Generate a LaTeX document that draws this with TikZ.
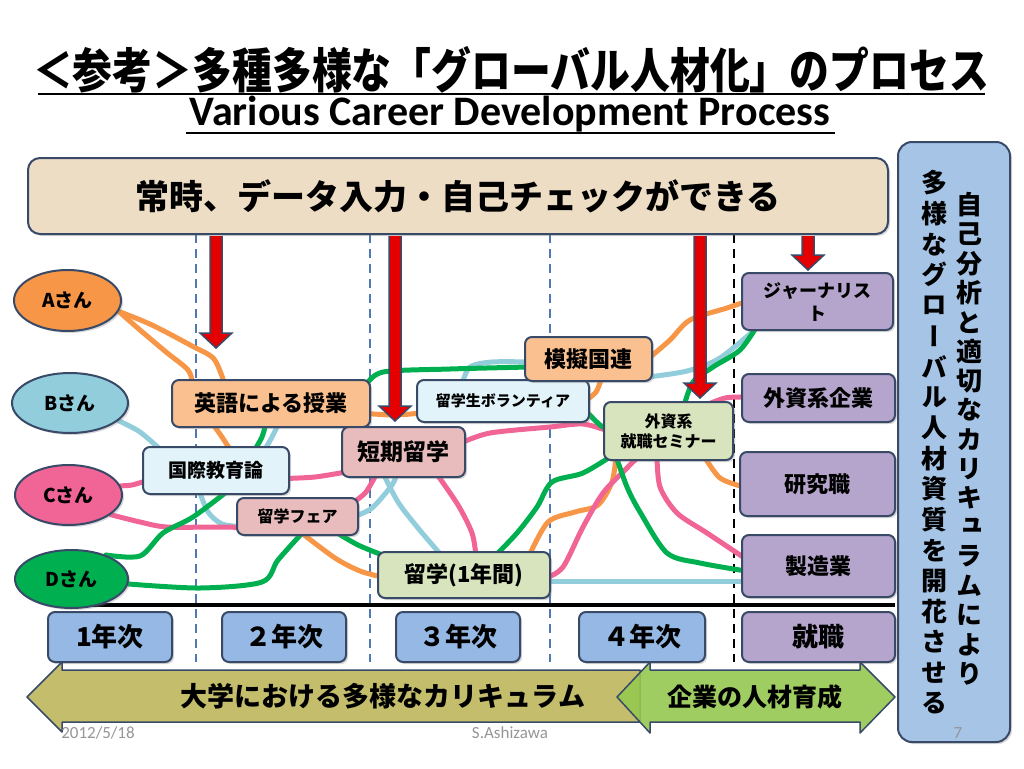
\documentclass[tikz,border=0pt]{standalone}
\usepackage{fontspec}
\usepackage{graphicx}
\setmainfont{Noto Sans CJK JP}
\newfontfamily\vertjp{Noto Sans CJK JP}[RawFeature=+vert]
\newfontfamily\calib{Carlito}
\usetikzlibrary{shapes.geometric,backgrounds,shadows}

\definecolor{edgec}{RGB}{56,74,104}
\definecolor{bannerfill}{RGB}{237,221,197}
\definecolor{sidefill}{RGB}{166,196,230}
\definecolor{orangebox}{RGB}{250,192,143}
\definecolor{cyanbox}{RGB}{226,243,250}
\definecolor{pinkbox}{RGB}{232,188,188}
\definecolor{greenbox}{RGB}{215,228,189}
\definecolor{jobpurple}{RGB}{181,165,204}
\definecolor{yearblue}{RGB}{149,185,228}
\definecolor{arrowred}{RGB}{228,0,0}
\definecolor{olive}{RGB}{196,189,108}
\definecolor{limegreen}{RGB}{150,200,80}
\definecolor{divblue}{RGB}{79,120,180}
\definecolor{lnorange}{RGB}{247,150,70}
\definecolor{lnblue}{RGB}{146,205,220}
\definecolor{lnpink}{RGB}{240,100,150}
\definecolor{lngreen}{RGB}{0,176,80}
\definecolor{footgray}{RGB}{150,150,150}

\newcommand\fsz[1]{\fontsize{#1}{#1}\selectfont}
% red arrow from the banner down to a tip
\newcommand\redarrow[3]{%
  \filldraw[redarr] (#1-6,#2) -- (#1-6,#3-15) -- (#1-16,#3-15) -- (#1,#3)
    -- (#1+16,#3-15) -- (#1+6,#3-15) -- (#1+6,#2);}

\begin{document}
\begin{tikzpicture}[
		x=1pt,y=-1pt,
		box/.style = {draw=edgec, line width=2pt, rounded corners=7pt, align=center,
			inner sep=2pt, font=\bfseries,
			drop shadow={shadow xshift=2pt, shadow yshift=-2pt, opacity=.3}},
		person/.style = {ellipse, draw=edgec, line width=2pt, font=\bfseries\fsz{19},
			drop shadow={shadow xshift=2pt, shadow yshift=-2pt, opacity=.3}},
		yearbox/.style = {box, fill=yearblue, minimum height=50, font=\bfseries\fsz{26}},
		career/.style = {box, fill=jobpurple, minimum width=153, font=\bfseries\fsz{22}},
		vchar/.style = {inner sep=0, font=\vertjp\bfseries\fsz{26}},
		redarr/.style = {fill=arrowred, draw=edgec, line width=1.5pt},
		divider/.style = {divblue, line width=2pt, dash pattern=on 9pt off 6pt},
		route/.style = {line width=5pt, line cap=round, line join=round},
		foot/.style = {font=\calib\fsz{17}, text=footgray}
	]
	\useasboundingbox (0,0) rectangle (1024,768);

	% titles
	\node (title) [inner sep=0, font=\bfseries\fsz{48}] at (511,70)
		{\scalebox{0.83}[1]{＜参考＞多種多様な「グローバル人材化」のプロセス}};
	\node (subtitle) [inner sep=0, font=\calib\bfseries\fsz{42}] at (510,114)
		{Various Career Development Process};
	\draw [line width=2pt] (38,94) -- (985,94);
	\draw [line width=2pt] (186,133) -- (835,133);

	% banner and side box
	\node (always) [box, fill=bannerfill, minimum width=860, minimum height=76,
		rounded corners=12pt, font=\bfseries\fsz{34}] at (458,196)
		{常時、データ入力・自己チェックができる};
	\node (side) [box, fill=sidefill, minimum width=112, minimum height=600,
		rounded corners=14pt] at (954,442) {};
	\foreach \ch [count=\i from 0] in {自,己,分,析,と,適,切,な,カ,リ,キ,ュ,ラ,ム,に,よ,り}
		\node (vR\i) [vchar] at (969,205+29.3*\i) {\ch};
	\foreach \ch [count=\i from 0] in {多,様,な,グ,ロ,ー,バ,ル,人,材,資,質,を,開,花,さ,せ,る}
		\node (vL\i) [vchar] at (934,183+30.6*\i) {\ch};

	% people
	\node (A) [person, fill=lnorange, minimum width=107, minimum height=61] at (67.5,300.5) {Aさん};
	\node (B) [person, fill=lnblue, minimum width=116, minimum height=60] at (70,403) {Bさん};
	\node (C) [person, fill=lnpink, minimum width=107, minimum height=60] at (68.5,495) {Cさん};
	\node (D) [person, fill=lngreen, minimum width=113, minimum height=58] at (71.5,579) {Dさん};

	% courses
	\node (eng) [box, fill=orangebox, minimum width=198, minimum height=47, font=\bfseries\fsz{22}] at (271,403.5) {英語による授業};
	\node (int) [box, fill=cyanbox, minimum width=146, minimum height=47, font=\bfseries\fsz{19}] at (216,470.5) {国際教育論};
	\node (fair) [box, fill=pinkbox, minimum width=121, minimum height=37, font=\bfseries\fsz{16}] at (297.5,516.5) {留学フェア};
	\node (short) [box, fill=pinkbox, minimum width=123, minimum height=50, font=\bfseries\fsz{23}] at (403.5,452) {短期留学};
	\node (vol) [box, fill=cyanbox, minimum width=172, minimum height=42, font=\bfseries\fsz{15}] at (503,401) {留学生ボランティア};
	\node (mogi) [box, fill=orangebox, minimum width=127, minimum height=44, font=\bfseries\fsz{22}] at (588.5,359) {模擬国連};
	\node (sem) [box, fill=greenbox, minimum width=129, minimum height=58, font=\bfseries\fontsize{16}{20}\selectfont] at (668.5,431) {外資系\\就職セミナー};
	\node (ryu) [box, fill=greenbox, minimum width=172, minimum height=46, font=\bfseries\fsz{22}] at (464,575) {留学(1年間)};

	% careers
	\node (jour) [career, minimum width=151, minimum height=57, font=\bfseries\fontsize{18}{23}\selectfont] at (817.5,301.5) {ジャーナリス\\ト};
	\node (biz) [career, minimum height=48] at (818.5,398) {外資系企業};
	\node (res) [career, minimum width=155, minimum height=64] at (817.5,484) {研究職};
	\node (mfg) [career, minimum height=62] at (818.5,566) {製造業};

	% years
	\node (y1) [yearbox, minimum width=124] at (110,637) {1年次};
	\node (y2) [yearbox, minimum width=124] at (284,637) {２年次};
	\node (y3) [yearbox, minimum width=124] at (458,637) {３年次};
	\node (y4) [yearbox, minimum width=126] at (642,637) {４年次};
	\node (job) [career, minimum height=50, font=\bfseries\fsz{26}] at (818.5,637) {就職};

	\begin{scope}[on background layer]
		\fill [white] (0,0) rectangle (1024,768);
		\foreach \xd in {196,370,550}
			\draw [divider] (\xd,234) -- (\xd,662);
		\draw [black, line width=2pt, dash pattern=on 9pt off 6pt] (734,234) -- (734,662);
		\draw [line width=4pt] (55,605) -- (895,605);

		% A
		\draw [route, lnorange] plot [smooth] coordinates {(A.-12) (140,330) (166,352) (188,370) ([xshift=22pt,yshift=-6pt]eng.north west)};
		\draw [route, lnorange] plot [smooth] coordinates {(A.-12) (152,325) (192,346) (214,359) ([xshift=54pt,yshift=-6pt]eng.north west)};
		\draw [route, lnorange] plot [smooth] coordinates {([xshift=41pt,yshift=5pt]eng.south west) (222,437) ([xshift=89pt,yshift=-5pt]int.north west)};
		\draw [route, lnorange] plot [smooth] coordinates {([xshift=63pt,yshift=5pt]fair.south west) (335,558) (360,571) ([xshift=5pt,yshift=-2pt]ryu.west)};
		\draw [route, lnorange] plot [smooth] coordinates {([xshift=-5pt,yshift=-10pt]eng.east) (395,415) ([xshift=5pt,yshift=-12pt]vol.west)};
		\draw [route, lnorange] plot [smooth] coordinates {([xshift=-5pt]vol.east) (596,392) ([xshift=78pt,yshift=5pt]mogi.south west)};
		\draw [route, lnorange] plot [smooth] coordinates {([xshift=-5pt]mogi.east) (670,340) (690,320) (727,308) ([xshift=5pt]jour.west)};
		\draw [route, lnorange] plot [smooth] coordinates {([xshift=152pt,yshift=-5pt]ryu.north west) (548,522) (575,512) (598,505) (612,482) ([xshift=13pt,yshift=5pt]sem.south west)};
		\draw [route, lnorange] plot [smooth] coordinates {([xshift=-30pt,yshift=5pt]sem.south east) (720,478) ([xshift=5pt,yshift=-3pt]res.west)};

		% B
		\draw [route, lnblue] plot [smooth] coordinates {(B.-20) (140,432) ([xshift=20pt,yshift=-5pt]int.north west)};
		\draw [route, lnblue] plot [smooth] coordinates {([xshift=122pt,yshift=-5pt]int.north west) (272,437) ([xshift=108pt,yshift=5pt]eng.south west)};
		\draw [route, lnblue] plot [smooth] coordinates {([xshift=57pt,yshift=5pt]int.south west) (208,512) (222,524) ([xshift=5pt,yshift=-10pt]fair.west)};
		\draw [route, lnblue] plot [smooth] coordinates {([xshift=-5pt]fair.east) (372,508) (392,485) ([xshift=56pt,yshift=5pt]short.south west)};
		\draw [route, lnblue] plot [smooth] coordinates {([xshift=42pt,yshift=5pt]short.south west) (398,502) (418,528) ([xshift=65pt,yshift=-5pt]ryu.north west)};
		\draw [route, lnblue] plot [smooth] coordinates {([xshift=46pt,yshift=-5pt]vol.north west) (470,367) (492,362) ([xshift=5pt,yshift=-3pt]mogi.west)};
		\draw [route, lnblue] plot [smooth] coordinates {([xshift=-5pt,yshift=-18pt]mogi.east) (687,371) (720,358) ([xshift=18pt,yshift=5pt]jour.south west)};
		\draw [route, lnblue] ([xshift=-5pt,yshift=-6pt]ryu.east) -- ([xshift=5pt,yshift=-15pt]mfg.west);

		% C
		\draw [route, lnpink] plot [smooth] coordinates {(C.10) (132,485) ([xshift=5pt,yshift=-10pt]int.west)};
		\draw [route, lnpink] plot [smooth] coordinates {(C.-25) (140,522) (167,527) (220,527) ([xshift=5pt,yshift=-11pt]fair.west)};
		\draw [route, lnpink] plot [smooth] coordinates {([xshift=-5pt,yshift=-8pt]int.east) (315,477) ([xshift=5pt,yshift=-20pt]short.west)};
		\draw [route, lnpink] plot [smooth] coordinates {([xshift=-5pt,yshift=-5pt]fair.north east) (366,492) ([xshift=36pt,yshift=5pt]short.south west)};
		\draw [route, lnpink] plot [smooth] coordinates {([xshift=-5pt,yshift=9pt]short.east) (490,433) (550,427) (583,424) ([xshift=5pt]sem.west)};
		\draw [route, lnpink] plot [smooth] coordinates {([xshift=95pt,yshift=5pt]short.south west) (458,505) (472,533) ([xshift=99pt,yshift=-5pt]ryu.north west)};
		\draw [route, lnpink] plot [smooth] coordinates {([xshift=-5pt,yshift=-3pt]ryu.east) (563,567) (583,527) (603,493) (625,470) ([xshift=36pt,yshift=5pt]sem.south west)};
		\draw [route, lnpink] plot [smooth] coordinates {([xshift=54pt,yshift=5pt]sem.south west) (660,487) (677,513) (707,533) ([xshift=5pt,yshift=7pt]mfg.west)};
		\draw [route, lnpink] plot [smooth] coordinates {([xshift=-30pt,yshift=-5pt]sem.north east) (725,398) ([xshift=5pt,yshift=1pt]biz.west)};

		% D
		\draw [route, lngreen] plot [smooth] coordinates {(D.35) (140,556) (163,533) (193,517) ([xshift=87pt,yshift=5pt]int.south west)};
		\draw [route, lngreen] plot [smooth] coordinates {(D.-5) (200,588) (262,582) (278,560) ([xshift=68pt,yshift=5pt]fair.south west)};
		\draw [route, lngreen] plot [smooth] coordinates {([xshift=112pt,yshift=-5pt]int.north west) (262,437) ([xshift=95pt,yshift=5pt]eng.south west)};
		\draw [route, lngreen] plot [smooth] coordinates {([xshift=-5pt,yshift=18pt]eng.east) (383,372) (450,369) ([xshift=5pt,yshift=-8pt]mogi.west)};
		\draw [route, lngreen] plot [smooth] coordinates {([xshift=-25pt,yshift=5pt]fair.south east) (358,545) ([xshift=8pt,yshift=-5pt]ryu.north west)};
		\draw [route, lngreen] plot [smooth] coordinates {([xshift=118pt,yshift=-5pt]ryu.north west) (517,533) (537,507) (552,482) (583,473) ([xshift=10pt,yshift=-24pt]sem.west)};
		\draw [route, lngreen] plot [smooth] coordinates {([xshift=-5pt,yshift=-9pt]vol.east) (600,425) ([xshift=8pt]sem.west)};
		\draw [route, lngreen] plot [smooth] coordinates {([xshift=13pt,yshift=5pt]sem.south west) (627,487) (640,512) (667,553) (700,563) ([xshift=5pt,yshift=-5pt]mfg.west)};
		\draw [route, lngreen] plot [smooth] coordinates {([xshift=-50pt,yshift=-5pt]sem.north east) (693,382) (713,367) (740,350) ([xshift=16pt,yshift=5pt]jour.south west)};
	\end{scope}

	% arrows from the banner
	\redarrow{216}{236}{348}
	\redarrow{395}{236}{421}
	\redarrow{700}{236}{398}
	\redarrow{808}{236}{270}

	% bottom arrows
	\filldraw [fill=olive, draw=edgec, line width=1.5pt, line join=round]
		(27,697) -- (62,662) -- (62,670) -- (640,670) -- (640,722) -- (62,722) -- (62,732) -- cycle;
	\filldraw [fill=limegreen, fill opacity=.9, draw=edgec, line width=1.5pt, line join=round]
		(617,697) -- (650,662) -- (650,670) -- (860,670) -- (860,662) -- (895,697)
		-- (860,733) -- (860,722) -- (650,722) -- (650,733) -- cycle;
	\node (univ) [font=\bfseries\fsz{27}] at (383,696) {大学における多様なカリキュラム};
	\node (corp) [font=\bfseries\fsz{25}] at (755,697) {企業の人材育成};

	% footer
	\node (date) [foot] at (98,733) {2012/5/18};
	\node (author) [foot] at (510,733) {S.Ashizawa};
	\node (page) [foot] at (958,733) {7};
\end{tikzpicture}
\end{document}
